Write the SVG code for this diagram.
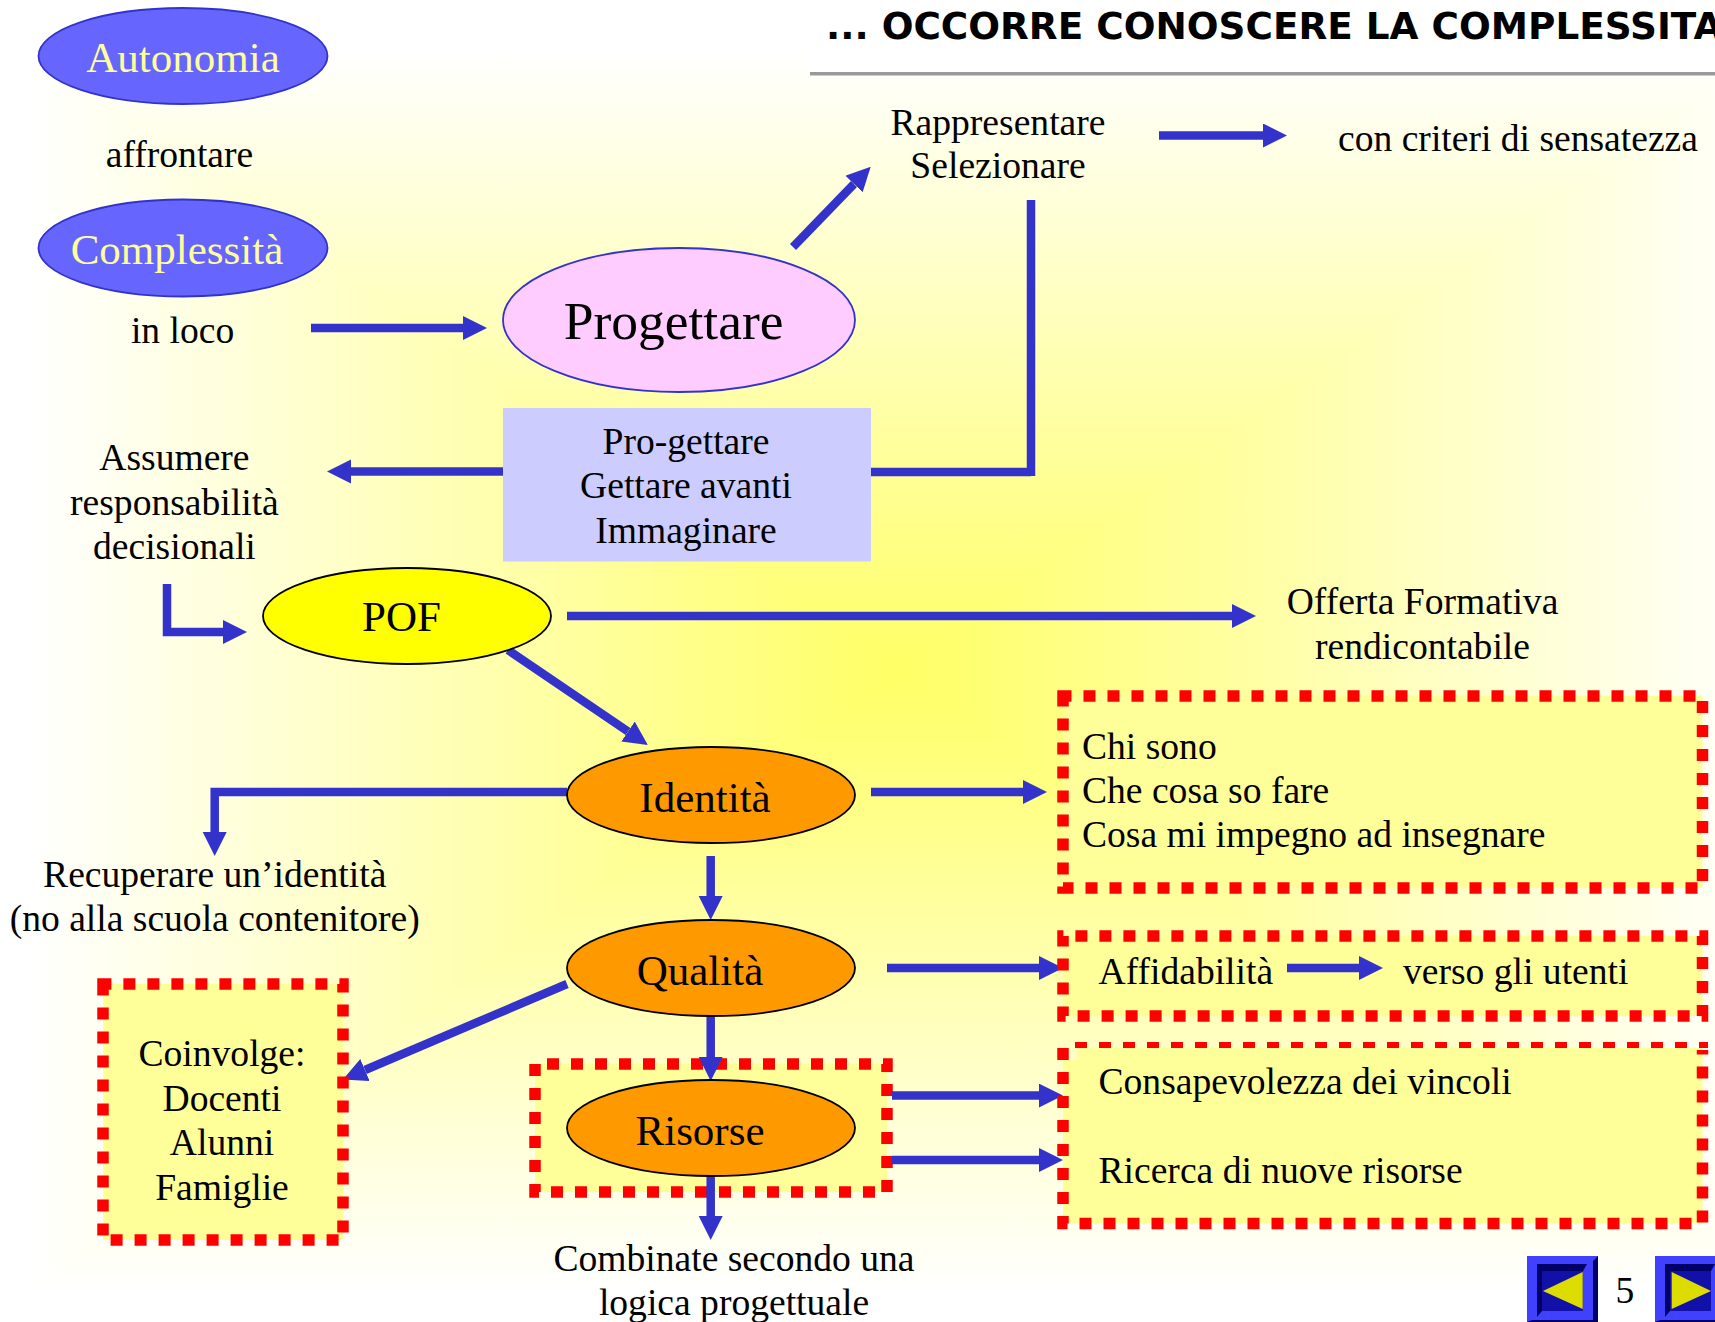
<svg xmlns="http://www.w3.org/2000/svg" width="1715" height="1322" viewBox="0 0 1715 1322">
<defs>
<linearGradient id="gL" gradientUnits="userSpaceOnUse" x1="900" y1="0" x2="30" y2="0"><stop offset="0" stop-color="#ffff66"/><stop offset="1" stop-color="#ffffff"/></linearGradient>
<linearGradient id="gR" gradientUnits="userSpaceOnUse" x1="900" y1="0" x2="1770" y2="0"><stop offset="0" stop-color="#ffff66"/><stop offset="1" stop-color="#ffffff"/></linearGradient>
<linearGradient id="gT" gradientUnits="userSpaceOnUse" x1="0" y1="670" x2="0" y2="50"><stop offset="0" stop-color="#ffff66"/><stop offset="1" stop-color="#ffffff"/></linearGradient>
<linearGradient id="gB" gradientUnits="userSpaceOnUse" x1="0" y1="670" x2="0" y2="1290"><stop offset="0" stop-color="#ffff66"/><stop offset="1" stop-color="#ffffff"/></linearGradient>
<marker id="ah" markerUnits="userSpaceOnUse" markerWidth="26" markerHeight="26" refX="0" refY="12" orient="auto" viewBox="0 0 26 26"><path d="M0,0 L24,12 L0,24 Z" fill="#3333cc"/></marker>
<g id="btn">
<rect x="0" y="0" width="71" height="66" fill="#4040ff"/>
<path d="M71,0V66H0L5,64H66V5Z" fill="#000066"/>
<rect x="10" y="8" width="46" height="47" fill="#1111aa"/>
<path d="M10,8H60L56,15H15V55L10,61Z" fill="#000066"/>
</g>
</defs>
<style>
text{font-family:"Liberation Serif","Times New Roman",serif;font-size:37.6px;fill:#000;text-anchor:middle}
.l{text-anchor:start}
.big{font-size:43px}
.pale{fill:#ffff99}
.ell{stroke-width:1.8}
.dot{fill:#ffff99;stroke:#ff0000;stroke-width:11.5;stroke-dasharray:12 12}
.red{fill:none;stroke:#ff0000;stroke-width:11.5;stroke-dasharray:12 12}
.c{fill:none;stroke:#3333cc;stroke-width:8.5}
.a{marker-end:url(#ah)}
.or{fill:#ff9900;stroke:#000}
.bg{shape-rendering:crispEdges}
</style>
<rect width="1715" height="1322" fill="#fff"/>
<polygon class="bg" points="900,670 30,50 30,1290" fill="url(#gL)"/>
<polygon class="bg" points="900,670 1770,50 1770,1290" fill="url(#gR)"/>
<polygon class="bg" points="900,670 30,50 1770,50" fill="url(#gT)"/>
<polygon class="bg" points="900,670 30,1290 1770,1290" fill="url(#gB)"/>
<rect x="810" y="0" width="905" height="72" fill="#fff"/>
<rect x="810" y="72" width="905" height="3.500" fill="#999999"/>
<text id="title" class="l" x="826" y="38.500" style="font-family:'DejaVu Sans',Verdana,sans-serif;font-weight:bold;font-size:37.400px">... OCCORRE CONOSCERE LA COMPLESSITA</text>
<g id="n-risorse-box"><rect class="dot" x="535" y="1064" width="352" height="128" stroke-dashoffset="12"/></g>
<g id="connectors">
<path class="c a" d="M311,328H463"/>
<path class="c a" d="M793,247L854,184"/>
<path class="c a" d="M1159,135.500H1263"/>
<path class="c" d="M1031,200V476M871,472H1031"/>
<path class="c a" d="M503,471.500H351"/>
<path class="c a" d="M167,584V632H223"/>
<path class="c a" d="M567,616H1232"/>
<path class="c a" d="M508,650L628,731.500"/>
<path class="c a" d="M567,792H214.700V832"/>
<path class="c a" d="M871,792H1023"/>
<path class="c a" d="M710.700,856V896"/>
<path class="c a" d="M887,968H1039"/>
<path class="c a" d="M567,984L365,1070"/>
<path class="c a" d="M710.700,1016V1057"/>
<path class="c a" d="M710.700,1176V1216"/>
<path class="c a" d="M892,1095.600H1039"/>
<path class="c a" d="M892,1160H1039"/>
</g>
<g id="n-autonomia"><ellipse class="ell" cx="183" cy="56" rx="144.500" ry="48" fill="#6666ff" stroke="#3333cc"/><text class="big pale" x="183" y="72">Autonomia</text></g>
<text id="t-affrontare" x="179.500" y="166.500">affrontare</text>
<g id="n-complessita"><ellipse class="ell" cx="183" cy="248" rx="144.500" ry="48.500" fill="#6666ff" stroke="#3333cc"/><text class="big pale" x="177" y="264">Complessità</text></g>
<text id="t-inloco" x="182.600" y="342.500">in loco</text>
<g id="n-progettare"><ellipse class="ell" cx="679" cy="320" rx="176" ry="72" fill="#ffccff" stroke="#3333cc"/><text x="673.600" y="339" style="font-size:53.500px">Progettare</text></g>
<g id="n-pro-gettare"><rect x="503" y="408" width="368" height="153.500" fill="#ccccff"/><text x="686" y="454">Pro-gettare</text><text x="686" y="498">Gettare avanti</text><text x="686" y="543">Immaginare</text></g>
<g id="n-assumere"><text x="174.400" y="470">Assumere</text><text x="174.400" y="514.500">responsabilità</text><text x="174.400" y="559">decisionali</text></g>
<g id="n-pof"><ellipse class="ell" cx="407" cy="616" rx="144" ry="48" fill="#ffff00" stroke="#000"/><text class="big" x="401.500" y="631">POF</text></g>
<g id="n-rappresentare"><text x="998" y="134.500">Rappresentare</text><text x="998" y="178">Selezionare</text></g>
<text id="t-criteri" x="1518" y="150.500">con criteri di sensatezza</text>
<g id="n-offerta"><text x="1422.500" y="614">Offerta Formativa</text><text x="1422.500" y="658.500">rendicontabile</text></g>
<g id="n-identita"><ellipse class="ell or" cx="711" cy="795" rx="144" ry="48"/><text class="big" x="705" y="812">Identità</text></g>
<g id="n-qualita"><ellipse class="ell or" cx="711" cy="968" rx="144" ry="48"/><text class="big" x="700" y="984.500">Qualità</text></g>
<g id="n-risorse"><ellipse class="ell or" cx="711" cy="1128" rx="144" ry="48"/><text class="big" x="700" y="1144.500">Risorse</text></g>
<g id="n-recuperare"><text x="214.700" y="886.500">Recuperare un’identità</text><text x="214.700" y="930.500">(no alla scuola contenitore)</text></g>
<g id="n-coinvolge"><rect class="dot" x="103" y="984" width="240" height="256" stroke-dashoffset="3.600"/><text x="222" y="1065.500">Coinvolge:</text><text x="222" y="1110.500">Docenti</text><text x="222" y="1155">Alunni</text><text x="222" y="1200">Famiglie</text></g>
<g id="n-combinate"><text x="734" y="1271">Combinate secondo una</text><text x="734" y="1315">logica progettuale</text></g>
<g id="n-chisono"><rect class="dot" x="1063" y="696" width="639.500" height="192" stroke-dashoffset="3.500"/><text class="l" x="1082" y="758.500">Chi sono</text><text class="l" x="1082" y="802.500">Che cosa so fare</text><text class="l" x="1082" y="847">Cosa mi impegno ad insegnare</text></g>
<g id="n-affidabilita"><rect class="dot" x="1063" y="936" width="639.500" height="80" stroke-dashoffset="11.600"/><text class="l" x="1098.500" y="983.500">Affidabilità</text><text class="l" x="1403" y="983.500">verso gli utenti</text></g>
<path class="c a" d="M1287,968H1359"/>
<g id="n-consapevolezza"><path d="M1078,1048H1702.500V1223.500H1063V1060H1078Z" fill="#ffff99"/><path class="red" style="stroke-width:6" d="M1075,1045H1708"/><path class="red" d="M1063,1048V1223.500H1702.500V1050"/><text class="l" x="1098.500" y="1094">Consapevolezza dei vincoli</text><text class="l" x="1098.500" y="1183">Ricerca di nuove risorse</text></g>
<g id="nav-prev"><use href="#btn" x="1527" y="1256"/><path d="M1582.700,1272V1309L1543,1291Z" fill="#dcdc00"/></g>
<text id="page" x="1625" y="1303">5</text>
<g id="nav-next"><use href="#btn" x="1655" y="1256"/><path d="M1671.700,1272V1309L1711,1291Z" fill="#dcdc00"/></g>
</svg>
